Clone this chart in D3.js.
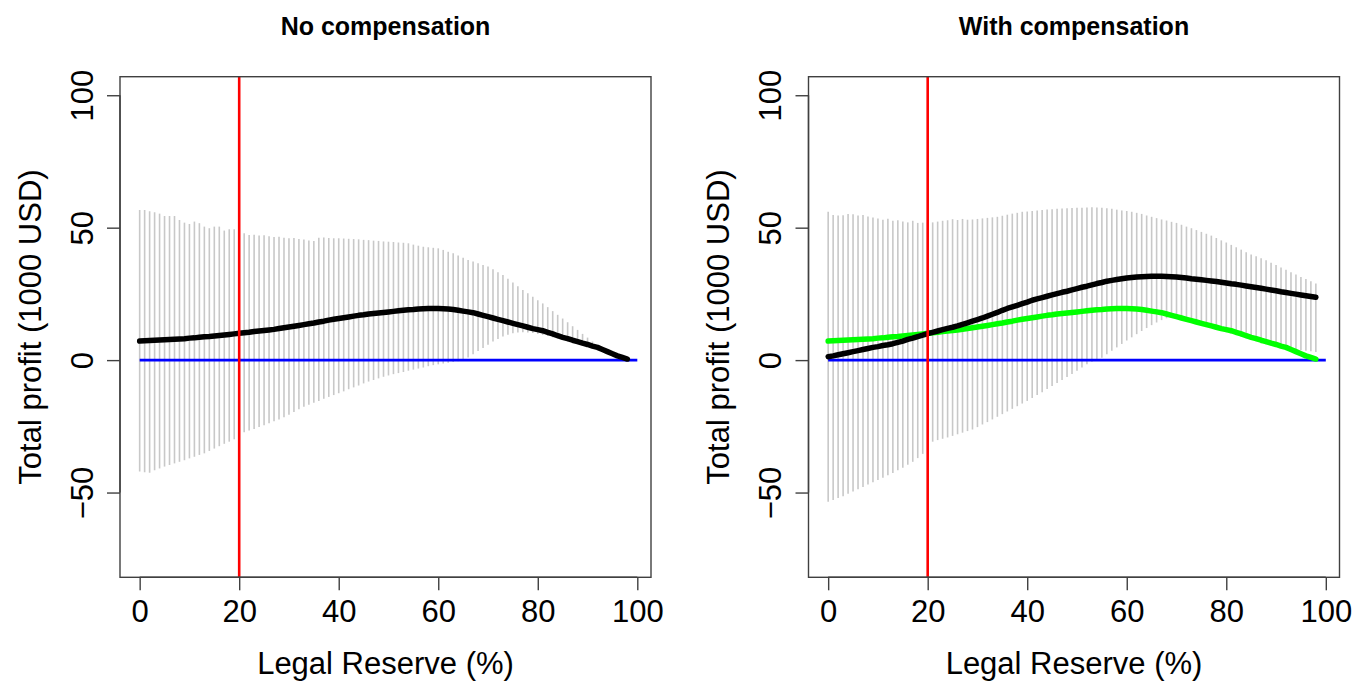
<!DOCTYPE html>
<html>
<head>
<meta charset="utf-8">
<script src="https://cdn.jsdelivr.net/npm/d3@7"></script>
<style>
  html, body { margin: 0; padding: 0; background: #ffffff; }
  svg { display: block; }
  text { font-family: "Liberation Sans", Arial, sans-serif; fill: #000; }
</style>
</head>
<body>
<svg id="chart" width="1355" height="681"></svg>
<script>
// Legal reserve share (%) at which each scenario was evaluated
const reserve = d3.range(0, 99);

// Mean total profit without compensation (1000 USD)
const meanNoComp = [
  7.2, 7.3, 7.4, 7.5, 7.6, 7.7, 7.8, 7.9, 8.0, 8.1,
  8.3, 8.4, 8.6, 8.8, 8.9, 9.1, 9.3, 9.5, 9.7, 9.9,
  10.1, 10.3, 10.5, 10.8, 11.0, 11.2, 11.4, 11.6, 11.9, 12.2,
  12.5, 12.8, 13.1, 13.4, 13.7, 14.0, 14.4, 14.7, 15.1, 15.4,
  15.7, 16.0, 16.3, 16.6, 16.9, 17.1, 17.4, 17.6, 17.8, 18.0,
  18.2, 18.4, 18.6, 18.8, 19.0, 19.1, 19.3, 19.4, 19.5, 19.5,
  19.5, 19.4, 19.3, 19.1, 18.8, 18.5, 18.2, 17.9, 17.4, 16.9,
  16.4, 15.9, 15.4, 14.9, 14.4, 13.9, 13.4, 12.9, 12.4, 11.9,
  11.5, 11.1, 10.5, 9.9, 9.2, 8.6, 8.1, 7.5, 7.0, 6.4,
  5.9, 5.3, 4.8, 4.0, 3.2, 2.4, 1.6, 1.0, 0.4
];
// Upper and lower bounds of the simulated profit, no compensation
const upperNoComp = [
  56.7, 56.7, 56.2, 55.8, 55.3, 54.4, 54.4, 54.4, 52.9, 51.9,
  51.4, 52.3, 51.7, 50.4, 49.8, 50.4, 50.4, 48.9, 49.4, 49.4,
  47.9, 47.9, 47.2, 47.3, 47.0, 47.1, 46.8, 46.5, 46.6, 46.2,
  46.0, 46.1, 45.7, 45.5, 45.2, 45.0, 46.2, 46.3, 46.1, 46.0,
  46.0, 45.9, 45.8, 45.7, 45.6, 45.4, 45.3, 45.1, 45.0, 44.8,
  44.7, 44.6, 44.4, 44.3, 44.1, 43.6, 43.2, 42.8, 42.6, 42.4,
  42.2, 41.6, 40.9, 40.3, 39.5, 38.6, 37.8, 37.2, 36.6, 35.9,
  35.3, 34.3, 33.2, 32.1, 30.7, 29.3, 27.9, 26.5, 25.2, 23.9,
  22.6, 21.4, 20.0, 18.5, 17.1, 15.7, 14.3, 12.8, 11.4, 9.9,
  8.5, 7.0, 5.6, 4.4, 3.2, 2.2, 1.4, 0.8, 0.4
];
const lowerNoComp = [
  -42.1, -42.3, -42.5, -41.6, -40.9, -40.2, -39.6, -39.0, -38.4, -37.8,
  -37.1, -36.5, -35.8, -35.2, -34.3, -33.4, -32.5, -31.6, -30.8, -29.9,
  -28.9, -27.2, -26.6, -26.0, -25.3, -24.6, -23.8, -23.1, -22.4, -21.6,
  -20.6, -19.6, -18.6, -17.6, -16.9, -16.1, -15.4, -14.6, -13.9, -13.2,
  -12.5, -11.8, -11.0, -10.3, -9.6, -8.8, -8.1, -7.5, -6.9, -6.3,
  -5.8, -5.3, -4.9, -4.5, -4.0, -3.6, -3.2, -2.8, -2.3, -1.9,
  -1.6, -1.3, -1.0, -0.7, -0.4, -0.1, 1.0, 2.2, 3.4, 4.6,
  5.8, 7.0, 8.0, 8.9, 9.6, 10.1, 10.4, 10.5, 10.4, 10.2,
  9.9, 9.5, 9.1, 8.6, 8.1, 7.6, 7.1, 6.6, 6.1, 5.6,
  5.1, 4.6, 4.1, 3.5, 2.9, 2.2, 1.5, 0.9, 0.3
];

// Mean total profit with compensation (1000 USD)
const meanComp = [
  1.3, 1.6, 2.0, 2.4, 2.8, 3.2, 3.6, 4.0, 4.4, 4.8,
  5.1, 5.5, 5.8, 6.2, 6.7, 7.2, 7.8, 8.3, 8.9, 9.4,
  10.0, 10.5, 11.0, 11.5, 12.0, 12.4, 12.9, 13.5, 14.1, 14.7,
  15.3, 15.9, 16.6, 17.3, 18.0, 18.8, 19.5, 20.1, 20.7, 21.3,
  21.9, 22.6, 23.1, 23.6, 24.1, 24.6, 25.1, 25.6, 26.0, 26.5,
  27.0, 27.5, 27.9, 28.4, 28.9, 29.3, 29.8, 30.1, 30.4, 30.7,
  31.0, 31.2, 31.4, 31.5, 31.6, 31.7, 31.7, 31.7, 31.6, 31.5,
  31.4, 31.2, 31.0, 30.7, 30.5, 30.3, 30.1, 29.9, 29.7, 29.4,
  29.1, 28.8, 28.6, 28.3, 28.0, 27.7, 27.4, 27.1, 26.8, 26.5,
  26.2, 25.8, 25.5, 25.2, 24.9, 24.6, 24.3, 24.0, 23.7
];
const upperComp = [
  56.0, 54.8, 54.6, 54.7, 55.2, 55.1, 54.6, 54.8, 54.2, 53.8,
  53.5, 53.0, 53.4, 52.6, 52.8, 52.3, 52.0, 52.6, 51.8, 51.9,
  51.9, 52.0, 52.3, 52.6, 52.8, 53.2, 52.9, 53.3, 53.0, 53.1,
  53.3, 53.5, 53.7, 53.9, 54.1, 54.5, 54.9, 55.3, 55.6, 56.0,
  56.1, 56.3, 56.5, 56.7, 56.9, 57.0, 57.1, 57.2, 57.3, 57.4,
  57.5, 57.5, 57.6, 57.7, 57.6, 57.5, 57.3, 57.1, 56.8, 56.5,
  56.3, 56.0, 55.6, 55.2, 54.6, 54.1, 53.6, 53.1, 52.7, 52.2,
  51.8, 51.1, 50.4, 49.8, 49.1, 48.4, 47.7, 47.0, 46.1, 45.2,
  44.4, 43.5, 42.6, 41.7, 40.7, 39.9, 39.2, 38.5, 37.7, 36.8,
  35.9, 35.0, 34.1, 33.2, 32.3, 31.4, 30.6, 29.8, 28.9
];
const lowerComp = [
  -53.5, -52.8, -52.1, -51.4, -50.5, -49.6, -48.8, -47.9, -47.0, -46.1,
  -45.3, -44.4, -43.5, -42.6, -41.6, -40.6, -39.5, -38.4, -37.0, -35.4,
  -34.0, -30.8, -30.2, -29.7, -29.2, -28.6, -28.0, -27.4, -26.8, -26.2,
  -25.3, -24.3, -23.4, -22.4, -21.4, -20.4, -19.4, -18.4, -17.4, -16.4,
  -15.4, -14.3, -13.2, -12.1, -10.9, -9.8, -8.6, -7.5, -6.4, -5.2,
  -4.0, -2.8, -1.6, -0.6, 0.1, 0.9, 2.2, 3.5, 4.8, 6.1,
  7.4, 8.6, 9.8, 11.0, 12.1, 13.2, 14.2, 15.1, 15.8, 16.2,
  16.2, 15.8, 15.3, 14.8, 14.3, 13.8, 13.3, 12.8, 12.3, 11.8,
  10.5, 10.0, 9.4, 8.8, 8.2, 7.6, 7.0, 6.4, 5.9, 5.4,
  5.0, 4.7, 4.4, 4.1, 3.9, 3.7, 3.5, 3.3, 3.1
];

const xTicks = [0, 20, 40, 60, 80, 100];
const yTicks = [-50, 0, 50, 100];
const panelTitles = ["No compensation", "With compensation"];
const xLabel = "Legal Reserve (%)";
const yLabel = "Total profit (1000 USD)";
const currentReserve = 20;     // legal minimum marked in red
const zeroLine = [[0, 0], [100, 0]];

const svg = d3.select("#chart");
svg.append("rect").attr("width", 1355).attr("height", 681).attr("fill", "#fff");

// R-style plotting region: data limits padded by 4% on each side
const xLim = [0, 98.8], yLim = [-75, 100];
const pad = (lim) => { const d = (lim[1] - lim[0]) * 0.04; return [lim[0] - d, lim[1] + d]; };

const boxW = 531, boxTop = 76.7, boxBottom = 577.3;
const y = d3.scaleLinear().domain(pad(yLim)).range([boxBottom, boxTop]);

const panels = [
  { left: 120, title: panelTitles[0], mean: meanNoComp, upper: upperNoComp, lower: lowerNoComp, ref: null },
  { left: 808.5, title: panelTitles[1], mean: meanComp, upper: upperComp, lower: lowerComp, ref: meanNoComp }
];

panels.forEach(p => {
  const x = d3.scaleLinear().domain(pad(xLim)).range([p.left, p.left + boxW]);
  const g = svg.append("g");
  const plot = g.append("g");

  // spread of simulated profits at each reserve level
  plot.selectAll("line.range")
    .data(reserve)
    .join("line")
    .attr("class", "range")
    .attr("x1", (d) => x(d)).attr("x2", (d) => x(d))
    .attr("y1", (d, i) => y(p.lower[i])).attr("y2", (d, i) => y(p.upper[i]))
    .attr("stroke", "#c8c8c8").attr("stroke-width", 1.6);

  // break-even line
  plot.append("path")
    .attr("d", d3.line().x(d => x(d[0])).y(d => y(d[1]))(zeroLine))
    .attr("stroke", "#0000ff").attr("stroke-width", 2.6).attr("fill", "none");

  const meanLine = d3.line().x((d, i) => x(reserve[i])).y(d => y(d));

  if (p.ref) {
    plot.append("path")
      .attr("d", meanLine(p.ref))
      .attr("stroke", "#00ff00").attr("stroke-width", 5.5).attr("fill", "none")
      .attr("stroke-linejoin", "round").attr("stroke-linecap", "round");
  }
  plot.append("path")
    .attr("d", meanLine(p.mean))
    .attr("stroke", "#000").attr("stroke-width", 5.5).attr("fill", "none")
    .attr("stroke-linejoin", "round").attr("stroke-linecap", "round");

  // current legal reserve requirement
  plot.append("line")
    .attr("x1", x(currentReserve)).attr("x2", x(currentReserve))
    .attr("y1", boxTop).attr("y2", boxBottom)
    .attr("stroke", "#ff0000").attr("stroke-width", 2.6);

  // frame
  g.append("rect")
    .attr("x", p.left).attr("y", boxTop)
    .attr("width", boxW).attr("height", boxBottom - boxTop)
    .attr("fill", "none").attr("stroke", "#404040").attr("stroke-width", 1.4);

  // x axis
  const xAxis = d3.axisBottom(x).tickValues(xTicks).tickSize(13).tickPadding(10).tickFormat(d3.format("d"));
  const gx = g.append("g").attr("transform", `translate(0,${boxBottom})`).call(xAxis);
  gx.select(".domain")
    .attr("d", `M${x(xTicks[0])},0H${x(xTicks[xTicks.length - 1])}`)
    .attr("stroke", "#404040").attr("stroke-width", 1.4);
  gx.selectAll(".tick line").attr("stroke", "#404040").attr("stroke-width", 1.4);
  gx.selectAll(".tick text")
    .attr("y", null).attr("dy", null)
    .attr("transform", "translate(0,45)")
    .style("font-size", "31px").style("font-family", '"Liberation Sans", Arial, sans-serif');

  // y axis, labels rotated parallel to the axis
  const yAxis = d3.axisLeft(y).tickValues(yTicks).tickSize(13).tickFormat(d3.format("d"));
  const gy = g.append("g").attr("transform", `translate(${p.left},0)`).call(yAxis);
  gy.select(".domain")
    .attr("d", `M0,${y(yTicks[0])}V${y(yTicks[yTicks.length - 1])}`)
    .attr("stroke", "#404040").attr("stroke-width", 1.4);
  gy.selectAll(".tick line").attr("stroke", "#404040").attr("stroke-width", 1.4);
  gy.selectAll(".tick text")
    .attr("x", null).attr("dy", null)
    .attr("transform", "translate(-27.5,0) rotate(-90)")
    .attr("text-anchor", "middle")
    .style("font-size", "31px").style("font-family", '"Liberation Sans", Arial, sans-serif');

  const cx = p.left + boxW / 2;
  g.append("text")
    .attr("x", cx).attr("y", 35)
    .attr("text-anchor", "middle")
    .style("font-size", "25px").style("font-weight", "bold")
    .text(p.title);

  g.append("text")
    .attr("x", cx).attr("y", 674)
    .attr("text-anchor", "middle")
    .style("font-size", "31px")
    .text(xLabel);

  g.append("text")
    .attr("transform", `translate(${p.left - 79.5},${(boxTop + boxBottom) / 2}) rotate(-90)`)
    .attr("text-anchor", "middle")
    .style("font-size", "31px")
    .text(yLabel);
});
</script>
</body>
</html>
